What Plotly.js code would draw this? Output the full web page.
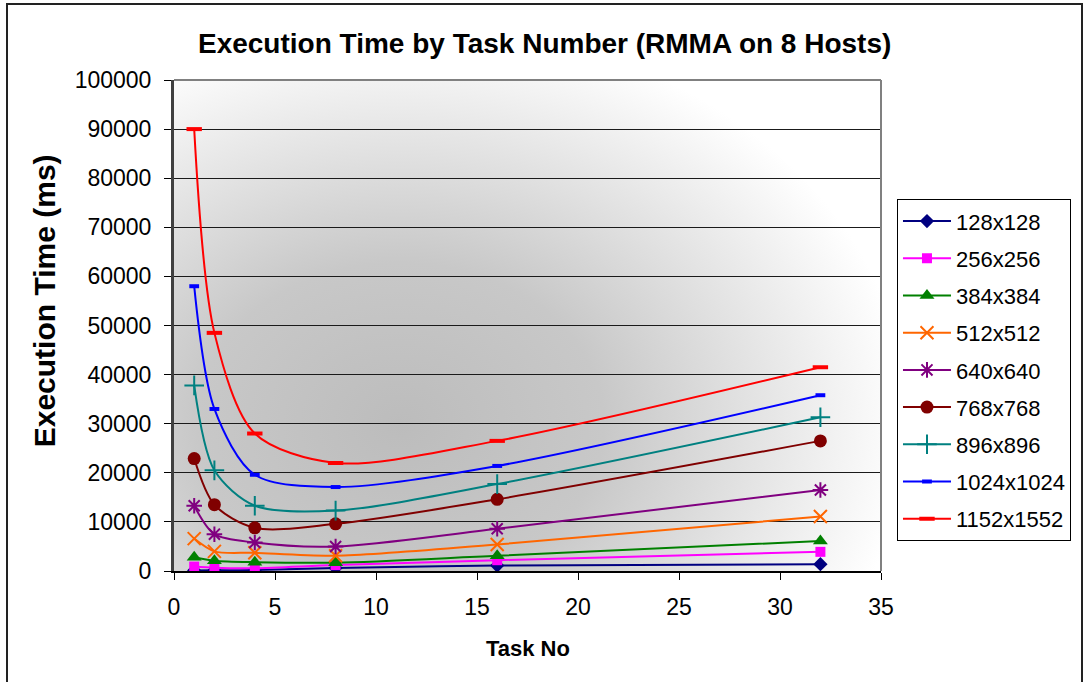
<!DOCTYPE html>
<html>
<head>
<meta charset="utf-8">
<script src="https://cdn.plot.ly/plotly-3.0.1.min.js"></script>
<style>
  html, body { margin: 0; padding: 0; background: #fff; }
  #wrap { position: relative; width: 1085px; height: 682px; overflow: hidden; }
  #chart { width: 1085px; height: 682px; }
  #frame { position: absolute; left: 6px; top: 3px; width: 1077px; height: 700px;
           border: 2px solid #222; pointer-events: none; box-sizing: border-box; }
</style>
</head>
<body>
<div id="wrap">
  <div id="chart"></div>
  <div id="frame"></div>
</div>
<script>
// Number of tasks on the x axis
const taskNo = [1, 2, 4, 8, 16, 32];

// Matrix sizes (legend labels)
const sizes = ["128x128", "256x256", "384x384", "512x512", "640x640",
               "768x768", "896x896", "1024x1024", "1152x1552"];

// Execution time (ms) for each matrix size
const t128  = [100, 150, 200, 600, 1100, 1400];
const t256  = [900, 650, 550, 1200, 2200, 3900];
const t384  = [2800, 2100, 1800, 1700, 3100, 6100];
const t512  = [6600, 4000, 3700, 3100, 5400, 11100];
const t640  = [13300, 7500, 5800, 5000, 8600, 16500];
const t768  = [22900, 13500, 8800, 9600, 14600, 26500];
const t896  = [37800, 20500, 13300, 12300, 17700, 31300];
const t1024 = [58000, 33000, 19600, 17100, 21400, 35800];
const t1152 = [90000, 48500, 28000, 22000, 26500, 41500];

const seriesValues = [t128, t256, t384, t512, t640, t768, t896, t1024, t1152];

const colors = ["#000080", "#FF00FF", "#008000", "#FF6600", "#800080",
                "#800000", "#008080", "#0000FF", "#FF0000"];
const markerStyles = [
  {symbol: "diamond", size: 11},
  {symbol: "square", size: 10},
  {symbol: "triangle-up", size: 13},
  {symbol: "x-thin-open", size: 13, lw: 2},
  {symbol: "asterisk-open", size: 13, lw: 2},
  {symbol: "circle", size: 13},
  {symbol: "cross-thin-open", size: 14, lw: 2},
  {symbol: "line-ew-open", size: 7, lw: 4},
  {symbol: "line-ew-open", size: 11, lw: 4}
];

const FONT = "Liberation Sans, Arial, sans-serif";

const traces = seriesValues.map((vals, i) => {
  const m = markerStyles[i];
  const marker = {symbol: m.symbol, size: m.size, color: colors[i]};
  if (m.lw) marker.line = {color: colors[i], width: m.lw};
  return {
    x: taskNo,
    y: vals,
    name: sizes[i],
    type: "scatter",
    mode: "lines+markers",
    line: {color: colors[i], width: 2, shape: "spline", smoothing: 0.85},
    marker: marker,
    legendgroup: "g" + i
  };
});

// Shaded plot-area background: elliptical gray-to-white gradient
function gradientImage() {
  const W = 707, H = 491;
  const c = document.createElement("canvas");
  c.width = W; c.height = H;
  const ctx = c.getContext("2d");
  ctx.fillStyle = "#ffffff";
  ctx.fillRect(0, 0, W, H);
  ctx.save();
  ctx.translate(W * 0.32, H * 0.70);
  ctx.scale(W * 0.72, H * 0.82);
  const g = ctx.createRadialGradient(0, 0, 0, 0, 0, 1);
  g.addColorStop(0, "#bcbcbc");
  g.addColorStop(0.4, "#c8c8c8");
  g.addColorStop(1, "#ffffff");
  ctx.fillStyle = g;
  ctx.fillRect(-2, -2, 4, 4);
  ctx.restore();
  return c.toDataURL("image/png");
}

const layout = {
  width: 1085,
  height: 682,
  margin: {l: 174, r: 204, t: 80, b: 111, autoexpand: false},
  paper_bgcolor: "#ffffff",
  plot_bgcolor: "rgba(0,0,0,0)",
  font: {family: FONT, color: "#000"},
  title: {
    text: "Execution Time by Task Number (RMMA on 8 Hosts)",
    font: {family: FONT, size: 28, weight: "bold", color: "#000"},
    x: 0.502, xanchor: "center", xref: "container",
    y: 0.937, yanchor: "middle", yref: "container"
  },
  xaxis: {
    range: [0, 35],
    dtick: 5,
    tick0: 0,
    showgrid: false,
    zeroline: false,
    showline: true,
    linecolor: "#000",
    linewidth: 2,
    ticks: "outside",
    ticklen: 7,
    tickwidth: 1,
    tickcolor: "#000",
    tickfont: {family: FONT, size: 23, color: "#000"},
    ticklabelstandoff: 7,
    fixedrange: true
  },
  yaxis: {
    range: [0, 100000],
    dtick: 10000,
    tick0: 0,
    tickformat: "d",
    showgrid: true,
    gridcolor: "#1a1a1a",
    gridwidth: 1,
    zeroline: false,
    showline: true,
    linecolor: "#404040",
    linewidth: 3,
    ticks: "outside",
    ticklen: 7,
    tickwidth: 1,
    tickcolor: "#000",
    tickfont: {family: FONT, size: 23, color: "#000"},
    ticklabelstandoff: 8,
    fixedrange: true
  },
  legend: {
    x: 1.0226, xanchor: "left",
    y: 0.757, yanchor: "top",
    bgcolor: "#ffffff",
    bordercolor: "#000",
    borderwidth: 1,
    font: {family: FONT, size: 22, color: "#000"},
    tracegroupgap: 5.6,
    itemwidth: 48,
    traceorder: "grouped"
  },
  showlegend: true,
  annotations: [
    {
      text: "Execution Time (ms)",
      xref: "paper", yref: "paper",
      x: -0.182, y: 0.55,
      xanchor: "center", yanchor: "middle",
      textangle: -90,
      showarrow: false,
      font: {family: FONT, size: 30, weight: "bold", color: "#000"}
    },
    {
      text: "Task No",
      xref: "paper", yref: "paper",
      x: 0.5, y: -0.157,
      xanchor: "center", yanchor: "middle",
      showarrow: false,
      font: {family: FONT, size: 22, weight: "bold", color: "#000"}
    }
  ],
  shapes: [
    {type: "line", xref: "paper", yref: "paper", x0: 0, x1: 1, y0: 1, y1: 1,
     line: {color: "#808080", width: 2}},
    {type: "line", xref: "paper", yref: "paper", x0: 1, x1: 1, y0: 0, y1: 1,
     line: {color: "#808080", width: 2}}
  ],
  images: [{
    source: gradientImage(),
    xref: "paper", yref: "paper",
    x: 0, y: 1, sizex: 1, sizey: 1,
    xanchor: "left", yanchor: "top",
    sizing: "stretch",
    layer: "below"
  }]
};

Plotly.newPlot("chart", traces, layout, {displayModeBar: false, staticPlot: true});
</script>
</body>
</html>
